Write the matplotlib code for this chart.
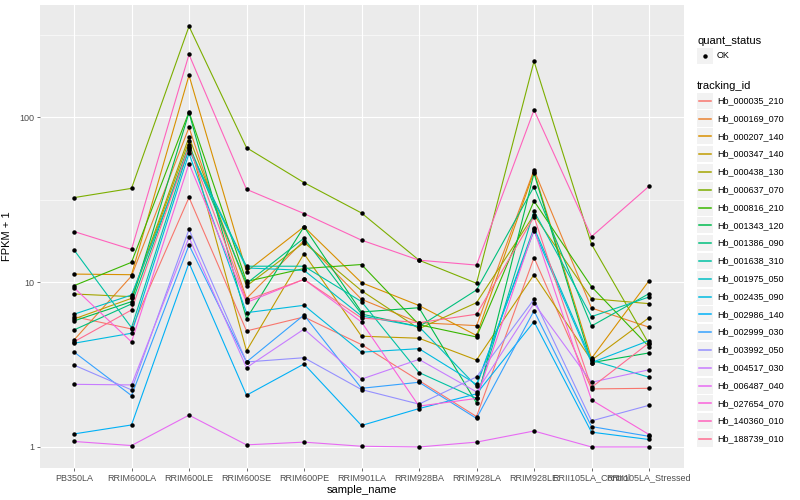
import numpy as np
import matplotlib
matplotlib.use("Agg")
import matplotlib.pyplot as plt
from matplotlib.patches import Rectangle
from matplotlib.lines import Line2D

plt.rcParams['font.family'] = ['Liberation Sans', 'DejaVu Sans']

samples = ["PB350LA", "RRIM600LA", "RRIM600LE", "RRIM600SE", "RRIM600PE",
           "RRIM901LA", "RRIM928BA", "RRIM928LA", "RRIM928LE",
           "RRII105LA_Control", "RRII105LA_Stressed"]

tracking_ids = ["Hb_000035_210", "Hb_000169_070", "Hb_000207_140", "Hb_000347_140",
                "Hb_000438_130", "Hb_000637_070", "Hb_000816_210", "Hb_001343_120",
                "Hb_001386_090", "Hb_001638_310", "Hb_001975_050", "Hb_002435_090",
                "Hb_002986_140", "Hb_002999_030", "Hb_003992_050", "Hb_004517_030",
                "Hb_006487_040", "Hb_027654_070", "Hb_140360_010", "Hb_188739_010"]

# ggplot default hue palette, 20 levels
hue_colors = ["#F8766D", "#EA8331", "#D89000", "#C09B00", "#A3A500", "#7CAE00",
              "#39B600", "#00BB4E", "#00BF7D", "#00C1A3", "#00BFC4", "#00BAE0",
              "#00B0F6", "#35A2FF", "#9590FF", "#C77CFF", "#E76BF3", "#FA62DB",
              "#FF62BC", "#FF6C91"]

# FPKM + 1 per sample
hb_000035_210 = [6.18, 5.20, 32.7, 5.06, 6.15, 4.18, 2.53, 1.53, 14.1, 2.25, 2.27]
hb_000169_070 = [4.46, 10.9, 86.9, 7.96, 17.9, 7.87, 5.68, 5.45, 48.0, 6.97, 5.33]
hb_000207_140 = [11.2, 11.1, 180, 11.6, 21.7, 9.93, 7.22, 4.75, 46.9, 3.45, 10.2]
hb_000347_140 = [5.98, 7.98, 71.9, 3.83, 14.9, 4.70, 4.57, 3.37, 11.1, 3.36, 6.09]
hb_000438_130 = [8.48, 8.17, 76.0, 9.48, 17.4, 8.88, 5.22, 7.51, 25.6, 7.94, 7.41]
hb_000637_070 = [32.6, 37.1, 357, 65.5, 40.2, 26.3, 13.6, 9.85, 219, 17.0, 4.22]
hb_000816_210 = [9.52, 13.2, 108, 10.1, 12.1, 12.8, 5.52, 4.65, 31.1, 9.39, 4.06]
hb_001343_120 = [5.82, 7.62, 107, 6.01, 21.7, 6.59, 7.00, 1.85, 45.8, 3.25, 3.72]
hb_001386_090 = [5.13, 7.38, 68.0, 9.82, 18.5, 6.41, 5.37, 8.97, 38.0, 5.42, 8.52]
hb_001638_310 = [15.7, 5.30, 64.9, 12.5, 12.5, 7.62, 2.83, 1.97, 27.0, 6.18, 8.13]
hb_001975_050 = [6.39, 8.36, 63.4, 12.2, 11.8, 6.24, 5.37, 2.34, 21.4, 3.36, 2.65]
hb_002435_090 = [4.26, 4.90, 60.4, 6.53, 7.24, 3.76, 3.95, 2.40, 20.5, 3.25, 4.42]
hb_002986_140 = [1.20, 1.36, 13.1, 2.06, 3.19, 1.35, 1.71, 2.10, 5.76, 1.23, 1.11]
hb_002999_030 = [3.77, 2.05, 16.8, 3.28, 6.32, 2.27, 2.47, 1.49, 6.71, 1.33, 1.16]
hb_003992_050 = [3.14, 2.22, 20.9, 3.28, 3.48, 2.23, 1.82, 2.66, 7.87, 1.44, 1.79]
hb_004517_030 = [2.40, 2.38, 18.7, 3.03, 5.19, 2.58, 3.40, 2.16, 7.45, 2.47, 2.94]
hb_006487_040 = [1.08, 1.02, 1.56, 1.03, 1.07, 1.01, 1.00, 1.07, 1.25, 1.00, 1.00]
hb_027654_070 = [9.26, 4.34, 52.5, 7.53, 10.4, 5.73, 1.77, 1.97, 20.9, 1.93, 1.19]
hb_140360_010 = [20.3, 15.8, 241, 36.6, 26.1, 18.0, 13.6, 12.7, 111, 18.9, 38.2]
hb_188739_010 = [4.35, 6.78, 66.4, 7.77, 10.4, 6.06, 5.68, 6.39, 24.9, 2.30, 4.28]

series = [hb_000035_210, hb_000169_070, hb_000207_140, hb_000347_140, hb_000438_130,
          hb_000637_070, hb_000816_210, hb_001343_120, hb_001386_090, hb_001638_310,
          hb_001975_050, hb_002435_090, hb_002986_140, hb_002999_030, hb_003992_050,
          hb_004517_030, hb_006487_040, hb_027654_070, hb_140360_010, hb_188739_010]

W, H = 800, 500
fig = plt.figure(figsize=(W / 100, H / 100), dpi=100)
ax = fig.add_axes([39.5 / W, 32 / H, 644 / W, 462.7 / H])
ax.set_facecolor("#EBEBEB")
for s in ax.spines.values():
    s.set_visible(False)

x = np.arange(len(samples))
for vals, col in zip(series, hue_colors):
    ax.plot(x, vals, color=col, lw=0.8, zorder=2)
for vals in series:
    ax.plot(x, vals, ls="none", marker="o", ms=2.2, color="black", zorder=3)

ax.set_yscale("log")
allv = np.log10(np.concatenate(series))
lo, hi = allv.min(), allv.max()
pad = (hi - lo) * 0.05
ax.set_ylim(10 ** (lo - pad), 10 ** (hi + pad))
ax.set_xlim(-0.6, len(samples) - 1 + 0.6)

ax.set_yticks([1, 10, 100])
ax.set_yticklabels(["1", "10", "100"])
ax.set_yticks([10 ** 0.5, 10 ** 1.5, 10 ** 2.5], minor=True)
ax.yaxis.set_minor_formatter(matplotlib.ticker.NullFormatter())
ax.set_xticks(x)
ax.set_xticklabels(samples)

ax.grid(which="major", color="white", lw=0.8)
ax.grid(which="minor", axis="y", color="white", lw=0.4)
ax.set_axisbelow(True)
ax.tick_params(which="major", length=2, width=0.5, color="#333333",
               labelsize=6.5, labelcolor="#4D4D4D", pad=2)
ax.tick_params(which="minor", length=0)

ax.set_xlabel("sample_name", fontsize=8, labelpad=2)
ax.set_ylabel("FPKM + 1", fontsize=8, labelpad=5)

# legend, ggplot style
def px(xp, yp):
    return xp / W, 1 - yp / H

def key_box(yc):
    fig.add_artist(Rectangle(px(697, yc + 8), 16 / W, 16 / H, transform=fig.transFigure,
                             facecolor="#F2F2F2", edgecolor="none", zorder=1))

fig.text(*px(697, 41), "quant_status", fontsize=8, va="center", ha="left")
key_box(56)
fig.add_artist(Line2D([705 / W], [1 - 56 / H], transform=fig.transFigure,
                      marker="o", ms=2.2, color="black", ls="none", zorder=3))
fig.text(*px(717, 56), "OK", fontsize=6.5, va="center", ha="left")

fig.text(*px(697, 86), "tracking_id", fontsize=8, va="center", ha="left")
step = 17.8
for i, (name, col) in enumerate(zip(tracking_ids, hue_colors)):
    yc = 100.7 + i * step
    key_box(yc)
    fig.add_artist(Line2D([699 / W, 711 / W], [1 - yc / H] * 2, transform=fig.transFigure,
                          color=col, lw=1.1, zorder=3))
    fig.text(*px(717, yc), name, fontsize=6.5, va="center", ha="left")

fig.savefig("out.png", dpi=100)
